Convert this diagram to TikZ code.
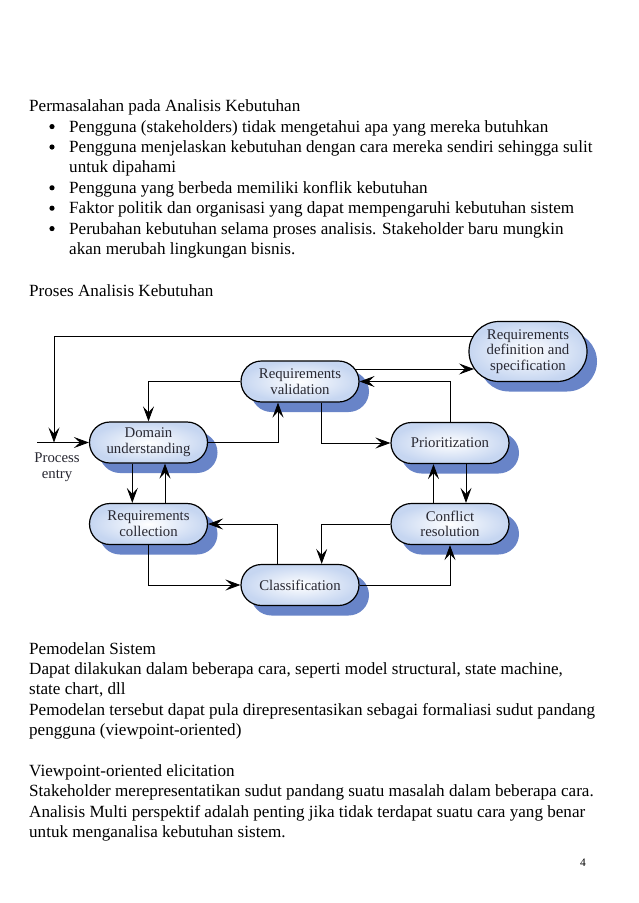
\documentclass[tikz,border=0pt]{standalone}
\usepackage{fontspec}
\setmainfont{Liberation Serif}
\usetikzlibrary{arrows.meta,shadows,calc}
\definecolor{shadowblue}{RGB}{104,132,200}
\definecolor{nodeouter}{RGB}{198,214,241}
\definecolor{nodetext}{RGB}{40,40,50}
\begin{document}
\begin{tikzpicture}[x=1pt,y=-1pt,
  txt/.style={anchor=base west, inner sep=0pt, font=\fontsize{17.1}{20}\selectfont},
  bul/.style={circle, fill=black, inner sep=0pt, minimum size=5.2pt},
  proc/.style={rectangle, rounded corners=20.5pt, draw=black, line width=1.2pt,
    minimum width=118pt, minimum height=41pt, inner sep=0pt, align=center,
    font=\fontsize{14.8}{15.7}\selectfont, text=nodetext,
    inner color=white, outer color=nodeouter,
    drop shadow={shadow xshift=10pt, shadow yshift=-10pt, fill=shadowblue, opacity=1, draw=none}},
  conn/.style={line width=0.8pt, -{Stealth[length=15pt,width=11pt,inset=6pt]}},
  plain/.style={line width=0.8pt}]
\fill[white] (0,0) rectangle (638,903);
\useasboundingbox (0,0) rectangle (638,903);

% ---- top text ----
\node[txt] (t1) at (29,111.7) {Permasalahan pada Analisis Kebutuhan};
\node[bul] (b1) at (52,126.6) {};
\node[txt] (t2) at (69,132.1) {Pengguna (stakeholders) tidak mengetahui apa yang mereka butuhkan};
\node[bul] (b2) at (52,147) {};
\node[txt] (t3) at (69,152.5) {Pengguna menjelaskan kebutuhan dengan cara mereka sendiri sehingga sulit};
\node[txt] (t4) at (69,172.9) {untuk dipahami};
\node[bul] (b3) at (52,187.8) {};
\node[txt] (t5) at (69,193.3) {Pengguna yang berbeda memiliki konflik kebutuhan};
\node[bul] (b4) at (52,208.2) {};
\node[txt] (t6) at (69,213.7) {Faktor politik dan organisasi yang dapat mempengaruhi kebutuhan sistem};
\node[bul] (b5) at (52,228.6) {};
\node[txt] (t7) at (69,234.1) {Perubahan kebutuhan selama proses analisis. Stakeholder baru mungkin};
\node[txt] (t8) at (69,254.5) {akan merubah lingkungan bisnis.};
\node[txt] (t9) at (29,296.7) {Proses Analisis Kebutuhan};

% ---- diagram nodes ----
\node[proc] (dom) at (148.5,442.5) {Domain\\understanding};
\node[proc] (val) at (300,381.5) {Requirements\\validation};
\node[proc, minimum height=60pt, rounded corners=30pt] (def) at (528,351.5) {Requirements\\definition and\\specification};
\node[proc] (pri) at (450,443) {Prioritization};
\node[proc] (col) at (148.5,524) {Requirements\\collection};
\node[proc] (con) at (450,524) {Conflict\\resolution};
\node[proc] (cla) at (300,585) {Classification};
\node[align=center, inner sep=0pt, font=\fontsize{14.8}{16}\selectfont, text=nodetext] (pe) at (57,467) {Process\\entry};

% ---- connectors ----
\coordinate (entry) at (37,442.5);
\coordinate (jn) at (54,442.5);
\draw[conn] ($(def.west)+(4.3,-15.5)$) -| (jn);
\draw[conn] (entry) -- (dom.west);
\draw[conn] (dom.east) -| ($(val.south)+(-22,0)$);
\draw[conn] (val.west) -| (dom.north);
\draw[conn] ($(val.east)+(-4.3,-12.5)$) -- ($(def.west)+(5.6,17.5)$);
\draw[conn] ($(pri.north)+(0.7,0)$) |- (val.east);
\draw[conn] ($(val.south)+(21.7,0)$) |- (pri.west);
\draw[conn] ($(pri.south)+(16,0)$) -- ($(con.north)+(16,0)$);
\draw[conn] ($(con.north)+(-16.5,0)$) -- ($(pri.south)+(-16.5,0)$);
\draw[conn] (con.west) -| ($(cla.north)+(21.7,0)$);
\draw[conn] (cla.east) -| (con.south);
\draw[conn] ($(cla.north)+(-22.3,0)$) |- (col.east);
\draw[conn] (col.south) |- (cla.west);
\draw[conn] ($(dom.south)+(-16.2,0)$) -- ($(col.north)+(-16.2,0)$);
\draw[conn] ($(col.north)+(16.5,0)$) -- ($(dom.south)+(16.5,0)$);

% ---- bottom text ----
\node[txt] (s1) at (29,654) {Pemodelan Sistem};
\node[txt] (s2) at (29,674.4) {Dapat dilakukan dalam beberapa cara, seperti model structural, state machine,};
\node[txt] (s3) at (29,694.8) {state chart, dll};
\node[txt] (s4) at (29,715.2) {Pemodelan tersebut dapat pula direpresentasikan sebagai formaliasi sudut pandang};
\node[txt] (s5) at (29,735.6) {pengguna (viewpoint-oriented)};
\node[txt] (s6) at (29,776.4) {Viewpoint-oriented elicitation};
\node[txt] (s7) at (29,796.8) {Stakeholder merepresentatikan sudut pandang suatu masalah dalam beberapa cara.};
\node[txt] (s8) at (29,817.2) {Analisis Multi perspektif adalah penting jika tidak terdapat suatu cara yang benar};
\node[txt] (s9) at (29,837.6) {untuk menganalisa kebutuhan sistem.};
\node[anchor=base, inner sep=0pt, font=\fontsize{11.5}{13}\selectfont] (pg) at (583,866) {4};
\end{tikzpicture}
\end{document}
